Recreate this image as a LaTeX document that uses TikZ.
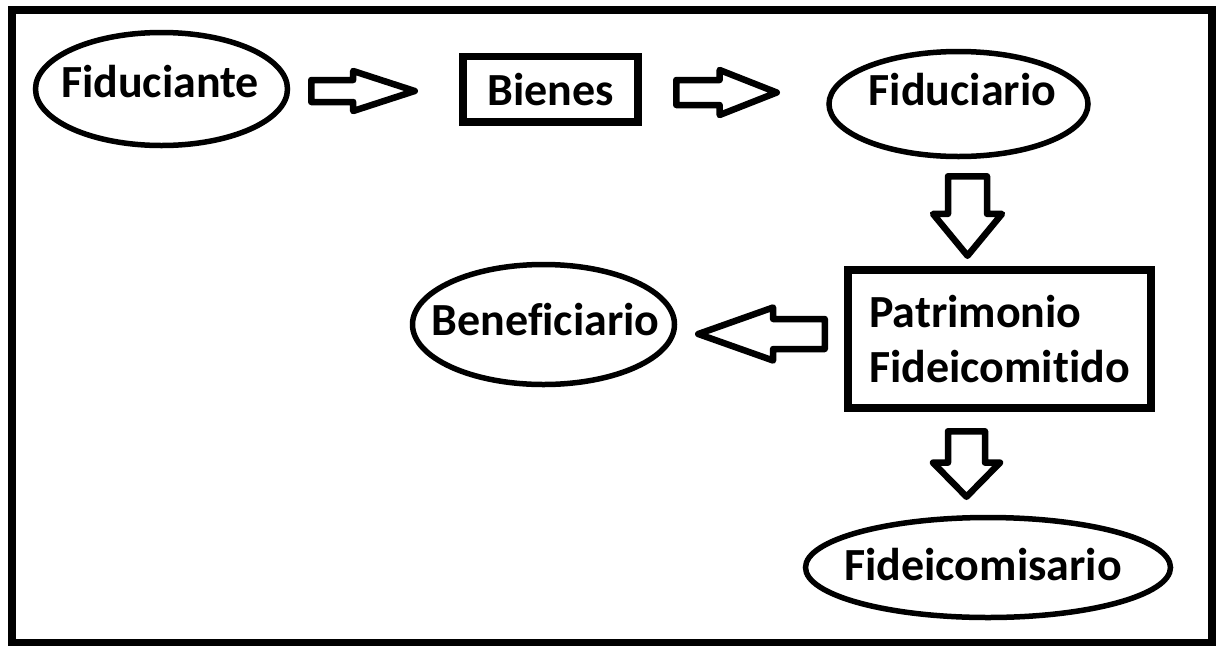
\documentclass[tikz,border=0pt]{standalone}
\usepackage{fontspec}
\setmainfont{Carlito}[Ligatures={NoCommon}]
\usetikzlibrary{calc,shapes.geometric,shapes.arrows}
\tikzset{
fideicomisopic/.style={
  x=1pt,y=-1pt
    ,inner sep=0pt
    ,outer sep=0pt
}
,outerframe/.style={draw=black,line width=7.5pt}
,party/.style={ellipse,draw=black,line width=5.5pt}
,asset/.style={rectangle,draw=black,line width=7.5pt
  ,font=\bfseries\fontsize{46}{55}\selectfont}
,nametext/.style={anchor=base,font=\bfseries\fontsize{46}{55}\selectfont}
,blockarrow/.style={single arrow,draw=black,fill=white
  ,line width=6.5pt,line join=round
  ,minimum width=0pt,inner xsep=0pt
  ,single arrow head indent=0pt,anchor=tail}
}

\begin{document}
\begin{tikzpicture}[fideicomisopic]
  \useasboundingbox (0,0) rectangle (1221,646);
  \draw[outerframe] (11.75,9.75) rectangle (1212,642.5);
  % top row
  \node[party,minimum width=252pt,minimum height=113pt] (fiduciante) at (161.5,89) {};
  \node[nametext] (fiduciantetxt) at ($(fiduciante)+(-1.5,8)$) {Fiduciante};
  \node[asset,minimum width=175pt,minimum height=65.5pt] (bienes) at (550.5,89.25) {Bienes};
  \node[party,minimum width=259pt,minimum height=105pt] (fiduciario) at (958.5,104) {};
  \node[nametext] (fiduciariotxt) at ($(fiduciario)+(4,1)$) {Fiduciario};
  % middle row
  \node[asset,align=left,minimum width=303pt,minimum height=138pt] (patrimonio) at (999.5,339)
    {Patrimonio\\Fideicomitido};
  \node[party,minimum width=262pt,minimum height=120pt] (beneficiario) at (543.5,324.5) {};
  \node[nametext] (beneficiariotxt) at ($(beneficiario)+(2,10.5)$) {Beneficiario};
  % bottom row
  \node[party,minimum width=365pt,minimum height=100pt] (fideicomisario) at (988,567.5) {};
  \node[nametext] (fideicomisariotxt) at ($(fideicomisario)+(-5,12.5)$) {Fideicomisario};
  % block arrows
  \node[blockarrow,minimum height=103.5pt,inner ysep=7.75pt
    ,single arrow head extend=9pt,single arrow tip angle=36]
    (toBienes) at ($(fiduciante.east)+(23.75,2)$) {};
  \node[blockarrow,minimum height=100.5pt,inner ysep=9.25pt
    ,single arrow head extend=10pt,single arrow tip angle=43]
    (toFiduciario) at ($(bienes.east)+(38.25,3.25)$) {};
  \node[blockarrow,rotate=-90,minimum height=79.5pt,inner ysep=16.25pt
    ,single arrow head extend=15pt,single arrow tip angle=79]
    (toPatrimonio) at ($(fiduciario.south)+(9,19.75)$) {};
  \node[blockarrow,rotate=180,minimum height=126.5pt,inner ysep=11.75pt
    ,single arrow head extend=11.5pt,single arrow tip angle=39]
    (toBeneficiario) at ($(patrimonio.west)+(-23.25,-5)$) {};
  \node[blockarrow,rotate=-90,minimum height=65.5pt,inner ysep=15.25pt
    ,single arrow head extend=15pt,single arrow tip angle=89]
    (toFideicomisario) at ($(patrimonio.south)+(-33,23.25)$) {};
\end{tikzpicture}
\end{document}
